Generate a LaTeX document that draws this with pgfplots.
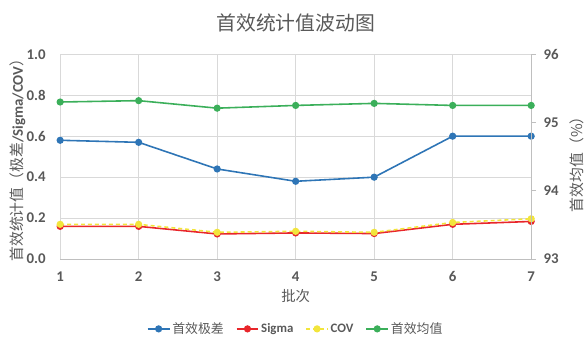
\documentclass[border=0pt]{standalone}
\usepackage{fontspec}
\setmainfont{Carlito}
\newfontfamily\cjk{Noto Sans CJK SC}
\usepackage{pgfplots}
\pgfplotsset{compat=1.18}
\definecolor{cblue}{HTML}{2E75B6}
\definecolor{cred}{HTML}{E8262B}
\definecolor{cyellow}{HTML}{F2E53C}
\definecolor{cgreen}{HTML}{3BAF5A}
\definecolor{txtgray}{HTML}{595959}
\definecolor{gridgray}{HTML}{D9D9D9}
\definecolor{axgray}{HTML}{BFBFBF}
\begin{document}
\begin{tikzpicture}
\pgfplotsset{
  base/.style={
    scale only axis, width=473.8bp, height=206.2bp,
    xmin=1, xmax=7,
    major tick length=0pt,
    tick label style={font=\fontsize{15}{15}\selectfont\bfseries, text=txtgray},
    /pgf/number format/assume math mode=true,
  },
  ser/.style={line width=1.6pt, mark=*, mark size=2.8pt, mark options={solid}},
}
\begin{axis}[base, name=ax,
  ymin=0, ymax=1,
  xtick={1,2,3,4,5,6,7},
  ytick={0,0.2,0.4,0.6,0.8,1.0},
  yticklabel style={/pgf/number format/fixed, /pgf/number format/fixed zerofill, /pgf/number format/precision=1, xshift=-11bp},
  xmajorgrids, ymajorgrids,
  grid style={draw=gridgray, line width=0.8pt},
  axis x line*=bottom, axis y line*=left,
  x axis line style={draw=axgray, line width=0.8pt, -},
  y axis line style={draw=none},
  xticklabel style={yshift=-9bp},
  xlabel={\cjk 批次},
  xlabel style={at={(axis description cs:0.5,-0.18)}, anchor=center, font=\fontsize{14.5}{14.5}\selectfont, text=txtgray},
  ylabel={\cjk 首效统计值（极差{\normalfont\bfseries /Sigma/COV}）},
  ylabel style={at={(axis description cs:-0.0897,0.5)}, anchor=center, font=\fontsize{15}{15}\selectfont, text=txtgray},
  legend columns=4,
  legend style={at={(axis description cs:0.5,-0.34)}, anchor=center, draw=none, fill=none,
    font=\fontsize{13}{13}\selectfont, text=txtgray,
    /tikz/every even column/.append style={column sep=10bp}},
  legend image code/.code={
    \draw[#1, mark repeat=2, mark phase=2] plot coordinates {(0bp,0bp) (11bp,0bp) (22bp,0bp)};
  },
]
\addplot[ser, color=cblue] coordinates {(1,0.58) (2,0.57) (3,0.44) (4,0.38) (5,0.40) (6,0.60) (7,0.60)};
\addlegendentry{\cjk 首效极差}
\addplot[ser, color=cred] coordinates {(1,0.160) (2,0.160) (3,0.123) (4,0.128) (5,0.125) (6,0.170) (7,0.184)};
\addlegendentry{\bfseries Sigma}
\addplot[ser, color=cyellow, dashed, dash pattern=on 4bp off 3bp] coordinates {(1,0.170) (2,0.170) (3,0.131) (4,0.136) (5,0.131) (6,0.179) (7,0.197)};
\addlegendentry{\bfseries COV}
\addlegendimage{ser, color=cgreen}
\addlegendentry{\cjk 首效均值}
\end{axis}
\begin{axis}[base,
  ymin=93, ymax=96,
  ytick={93,94,95,96},
  axis x line=none,
  axis y line*=right,
  y axis line style={draw=axgray, line width=0.8pt, -},
  ytick style={draw=axgray, line width=0.8pt},
  major tick length=5bp,
  tick align=outside,
  yticklabel style={xshift=4bp},
  ylabel={\cjk 首效均值（\%）},
  ylabel style={at={(axis description cs:1.0965,0.48)}, anchor=center, font=\fontsize{15}{15}\selectfont, text=txtgray},
]
\addplot[ser, color=cgreen] coordinates {(1,95.30) (2,95.32) (3,95.21) (4,95.25) (5,95.28) (6,95.25) (7,95.25)};
\end{axis}
\node[font=\cjk\fontsize{20}{20}\selectfont, text=txtgray] at ([yshift=31.5bp]ax.north) {首效统计值波动图};
\path[use as bounding box] ([xshift=-60.5bp,yshift=-91.3bp]ax.south west) rectangle ([xshift=52.7bp,yshift=54.5bp]ax.north east);
\end{tikzpicture}
\end{document}
